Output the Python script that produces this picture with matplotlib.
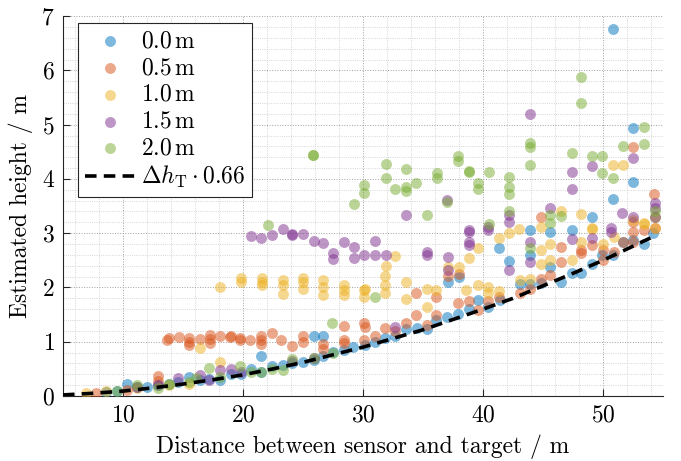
import numpy as np
import matplotlib
matplotlib.use('Agg')
from matplotlib import pyplot as plt

## font setup, looks like LaTeX / Computer Modern
plt.rcParams['font.family'] = 'serif'
plt.rcParams['font.serif'] = ['cmr10']
plt.rcParams['mathtext.fontset'] = 'cm'
plt.rcParams['axes.formatter.use_mathtext'] = True
plt.rcParams['font.size'] = 17

## reference line  dh_T * 0.66
line_x = [5, 7.5, 10, 12.5, 15, 17.5, 20, 22.5, 25, 27.5, 30, 32.5, 35, 37.5, 40, 42.5, 45, 47.5, 50, 52.5, 54.5]
line_y = [0.02, 0.05, 0.09, 0.15, 0.22, 0.3, 0.39, 0.5, 0.62, 0.76, 0.9, 1.06, 1.22, 1.41, 1.6, 1.8, 2.03, 2.26, 2.5, 2.76, 2.97]

## 0.0 m
x_00 = [8.6, 9.5, 10.3, 11.2, 12.0, 12.9, 13.8, 14.6, 15.5, 16.4, 17.2, 18.1, 19.0, 19.8, 20.7,
        21.5, 21.5, 22.4, 23.3, 24.1, 25.0, 25.9, 25.9, 26.7, 26.7, 27.5, 28.4, 29.2, 30.2, 31.0,
        31.8, 32.7, 33.6, 34.5, 35.3, 36.1, 37.0, 37.1, 37.9, 38.0, 38.8, 39.6, 40.4, 41.3, 41.4,
        42.2, 43.1, 43.9, 43.9, 43.9, 44.8, 45.6, 45.6, 46.5, 47.4, 47.4, 48.2, 49.1, 49.1, 49.9,
        50.8, 50.8, 50.8, 51.7, 52.5, 52.5, 52.5, 53.4, 54.2, 54.3]
y_00 = [0.08, 0.1, 0.22, 0.17, 0.17, 0.2, 0.22, 0.25, 0.35, 0.3, 0.32, 0.3, 0.4, 0.4, 0.5,
        0.45, 0.74, 0.55, 0.57, 0.61, 0.63, 0.66, 1.1, 0.74, 1.1, 0.82, 0.85, 0.91, 0.94, 1.0,
        1.06, 1.1, 1.23, 1.25, 1.23, 1.4, 1.45, 2.1, 1.52, 2.2, 1.6, 1.77, 1.64, 2.73, 1.77,
        2.49, 2.06, 2.07, 3.05, 2.6, 2.09, 2.37, 3.03, 2.1, 2.26, 3.06, 2.26, 2.44, 3.3, 2.6,
        2.6, 3.63, 6.77, 2.84, 2.87, 3.94, 4.94, 2.81, 3.0, 3.3]

## 0.5 m
x_05 = [7.75, 10.3, 12.9, 12.9, 13.7, 13.8, 14.7, 15.5, 15.5, 15.5, 16.4, 17.25, 17.25, 17.25,
        18.1, 18.9, 19.0, 19.75, 19.75, 20.6, 21.5, 21.5, 21.5, 22.4, 23.2, 24.1, 25.0, 25.0,
        26.7, 26.7, 28.4, 28.4, 28.4, 30.1, 30.1, 30.2, 31.0, 31.8, 32.7, 33.6, 34.4, 34.4, 35.3,
        36.1, 36.1, 37.1, 37.9, 38.0, 38.8, 39.6, 40.4, 41.3, 43.1, 43.9, 44.8, 44.8, 45.6, 46.5,
        46.5, 48.2, 48.2, 49.1, 50.0, 50.0, 50.9, 51.7, 52.5, 52.5, 52.5, 52.5, 53.4, 54.3, 54.3,
        54.25]
y_05 = [0.06, 0.11, 0.36, 0.28, 1.03, 1.07, 1.09, 1.07, 0.94, 1.0, 1.05, 1.12, 0.98, 1.05,
        1.1, 1.08, 1.1, 1.07, 1.03, 1.03, 1.1, 0.96, 1.03, 1.17, 1.03, 0.93, 1.1, 1.0,
        0.95, 0.87, 1.29, 1.04, 0.97, 1.34, 1.03, 1.28, 1.1, 1.25, 1.2, 1.35, 1.89, 1.49, 1.31,
        1.49, 1.83, 2.22, 1.71, 2.25, 1.75, 1.58, 1.75, 1.83, 1.89, 1.98, 3.3, 2.15, 2.23, 2.75,
        2.47, 2.69, 2.63, 2.78, 2.69, 2.5, 2.66, 2.84, 3.21, 3.03, 2.84, 4.59, 3.06, 3.09, 3.3,
        3.73]

## 1.0 m
x_10 = [6.9, 8.6, 11.2, 13.8, 15.5, 16.4, 18.1, 18.1, 19.8, 19.8, 21.6, 21.6, 21.6, 23.3, 23.3,
        23.3, 25.0, 25.0, 25.0, 26.7, 26.7, 26.7, 28.4, 28.4, 28.4, 30.1, 30.1, 30.2, 31.8, 31.8,
        31.9, 31.8, 32.7, 33.6, 33.6, 35.3, 35.3, 36.1, 37.1, 38.0, 38.6, 38.8, 39.6, 39.6, 40.4,
        40.4, 41.3, 41.3, 42.2, 43.0, 43.1, 43.9, 44.8, 44.8, 44.8, 45.6, 45.6, 46.5, 47.4, 48.2,
        48.2, 49.1, 49.1, 50.0, 50.8, 50.9, 51.7, 52.5, 53.4, 53.4, 54.3]
y_10 = [0.05, 0.1, 0.15, 0.2, 0.22, 0.88, 2.0, 0.62, 2.17, 2.1, 2.17, 2.04, 2.1, 2.14, 2.04,
        1.88, 2.18, 2.1, 1.98, 2.14, 2.01, 1.86, 2.04, 1.95, 1.86, 1.95, 1.82, 1.97, 2.21, 2.04,
        2.39, 1.89, 2.58, 2.1, 1.78, 1.98, 1.64, 1.95, 2.38, 2.38, 1.95, 2.54, 2.04, 2.73, 2.0,
        1.89, 1.94, 2.92, 3.01, 3.07, 2.14, 2.16, 3.12, 2.69, 2.43, 2.8, 2.5, 3.41, 2.5, 3.35,
        2.84, 3.09, 3.07, 2.81, 4.25, 2.93, 4.25, 3.24, 3.19, 3.17, 3.1]

## 1.5 m
x_15 = [11.2, 12.9, 14.6, 16.4, 17.2, 18.1, 19.0, 19.8, 24.1, 25.9, 20.7, 21.5, 22.4, 23.3, 24.1,
        24.1, 25.0, 25.9, 26.7, 27.5, 27.5, 28.4, 29.25, 29.25, 30.1, 31.0, 31.0, 31.9, 32.7, 33.6,
        35.3, 35.3, 37.0, 37.1, 37.1, 38.8, 38.8, 38.8, 38.8, 40.4, 40.4, 42.2, 42.2, 42.2, 43.9,
        43.9, 43.9, 45.6, 47.4, 47.4, 47.4, 49.1, 49.1, 50.7, 50.7, 51.6, 52.5, 52.5, 54.3, 54.3]
y_15 = [0.17, 0.2, 0.33, 0.38, 0.3, 0.48, 0.5, 0.45, 0.65, 0.7, 2.95, 2.92, 2.96, 3.07, 2.98,
        2.96, 2.99, 2.86, 2.82, 2.64, 2.52, 2.84, 2.75, 2.55, 2.6, 2.86, 2.6, 2.6, 1.28, 3.33,
        2.66, 2.6, 3.61, 2.57, 2.32, 3.06, 3.03, 2.84, 2.78, 3.12, 3.06, 3.33, 3.21, 2.32, 5.19,
        2.84, 2.47, 3.47, 4.13, 3.81, 2.89, 4.24, 2.92, 3.1, 3.03, 3.38, 4.38, 3.3, 3.55, 3.47]

## 2.0 m
x_20 = [9.5, 11.2, 12.9, 13.8, 15.5, 16.1, 17.2, 18.1, 19.75, 20.7, 21.5, 22.4, 23.3, 24.1, 25.9,
        27.5, 22.1, 25.8, 25.8, 27.4, 29.25, 30.1, 30.1, 31.0, 31.9, 31.9, 32.7, 33.6, 33.6, 33.6,
        34.4, 35.3, 36.2, 36.2, 37.0, 37.9, 37.9, 38.8, 38.8, 39.6, 39.6, 40.5, 40.5, 42.2, 42.2,
        42.2, 42.2, 43.9, 43.9, 43.9, 43.9, 45.6, 45.6, 46.5, 47.4, 48.2, 48.2, 49.1, 49.9, 49.9,
        50.8, 51.7, 53.4, 53.4, 54.3]
y_20 = [0.1, 0.2, 0.15, 0.22, 0.25, 0.33, 0.51, 0.35, 0.55, 0.45, 0.45, 0.5, 0.48, 0.68, 0.7,
        0.8, 3.15, 4.45, 4.45, 1.34, 3.54, 3.89, 3.74, 1.82, 4.27, 4.01, 3.81, 4.19, 3.85, 3.77,
        3.93, 3.33, 4.11, 4.01, 3.58, 4.42, 4.33, 4.15, 4.13, 3.93, 3.81, 4.13, 3.17, 4.03, 3.85,
        3.72, 3.41, 4.67, 4.59, 4.25, 2.72, 3.33, 3.18, 3.31, 4.47, 5.87, 5.40, 4.43, 4.42, 4.11,
        4.01, 4.61, 4.95, 4.64, 3.4]

series = [(x_00, y_00, '$0.0\\,\\mathrm{m}$', '#0072BD'),
          (x_05, y_05, '$0.5\\,\\mathrm{m}$', '#D95319'),
          (x_10, y_10, '$1.0\\,\\mathrm{m}$', '#EDB120'),
          (x_15, y_15, '$1.5\\,\\mathrm{m}$', '#7E2F8E'),
          (x_20, y_20, '$2.0\\,\\mathrm{m}$', '#77AC30')]

fig = plt.figure(figsize=(6.81, 4.61), dpi=100)
ax = fig.add_axes([0.0925, 0.141, 0.881, 0.824])

for xs, ys, lab, col in series:
    ax.scatter(xs, ys, s=62, color=col, alpha=0.5, linewidths=0, label=lab, zorder=3)

ax.plot(line_x, line_y, color='black', linestyle=(0, (3.2, 2.0)), linewidth=2.6,
        label='$\\Delta h_\\mathrm{T} \\cdot 0.66$', zorder=4)

ax.set_xlim(5, 55)
ax.set_ylim(0, 7)
ax.set_xticks([10, 20, 30, 40, 50])
ax.set_yticks(range(0, 8))
ax.set_xticks(np.arange(6, 55, 2), minor=True)
ax.set_yticks(np.arange(0, 7.01, 0.2), minor=True)
ax.grid(True, which='major', linestyle=':', linewidth=0.7, color='#a0a0a0')
ax.grid(True, which='minor', linestyle=':', linewidth=0.6, color='#c8c8c8')
ax.set_axisbelow(True)
ax.tick_params(which='major', direction='in', length=5, width=0.8, colors='#262626',
               labelcolor='black', pad=6)
ax.tick_params(which='minor', length=0)
for s in ['top', 'right']:
    ax.spines[s].set_visible(False)
for s in ['left', 'bottom']:
    ax.spines[s].set_color('#262626')
    ax.spines[s].set_linewidth(0.8)

ax.set_xlabel('Distance between sensor and target / m', labelpad=6)
ax.set_ylabel('Estimated height / m', labelpad=6)

leg = ax.legend(loc='upper left', bbox_to_anchor=(0.025, 0.982), borderaxespad=0,
                fancybox=False, edgecolor='#262626', framealpha=1, handlelength=2.1,
                borderpad=0.3, labelspacing=0.2, handletextpad=0.25)
leg.get_frame().set_linewidth(0.8)

plt.savefig('out.png', dpi=100)
